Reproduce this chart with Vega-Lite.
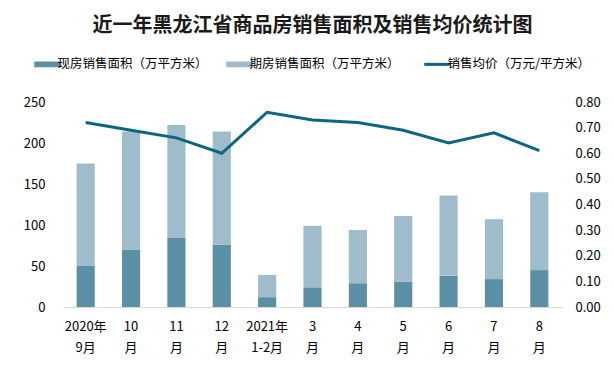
{
  "$schema": "https://vega.github.io/schema/vega-lite/v6.json",
  "width": 499,
  "height": 205,
  "autosize": "none",
  "padding": {"left": 63, "top": 102, "right": 52, "bottom": 63},
  "background": "white",
  "title": {
    "text": "近一年黑龙江省商品房销售面积及销售均价统计图",
    "font": "Noto Sans CJK SC",
    "fontSize": 20,
    "fontWeight": "bold",
    "color": "#1a1a1a",
    "anchor": "middle",
    "offset": 22
  },
  "config": {
    "view": {"stroke": null},
    "font": "Noto Sans CJK SC",
    "axis": {"grid": false, "ticks": false, "labelColor": "#000000", "labelFont": "Noto Sans CJK SC", "labelFontSize": 13, "title": null}
  },
  "data": {
    "values": [
      {"month": "2020年|9月", "现房销售面积(万平方米)": 50, "期房销售面积(万平方米)": 125, "price": 0.72},
      {"month": "10|月", "现房销售面积(万平方米)": 70, "期房销售面积(万平方米)": 144, "price": 0.69},
      {"month": "11|月", "现房销售面积(万平方米)": 84, "期房销售面积(万平方米)": 138, "price": 0.66},
      {"month": "12|月", "现房销售面积(万平方米)": 76, "期房销售面积(万平方米)": 138, "price": 0.60},
      {"month": "2021年|1-2月", "现房销售面积(万平方米)": 12, "期房销售面积(万平方米)": 27, "price": 0.76},
      {"month": "3|月", "现房销售面积(万平方米)": 24, "期房销售面积(万平方米)": 75, "price": 0.73},
      {"month": "4|月", "现房销售面积(万平方米)": 29, "期房销售面积(万平方米)": 65, "price": 0.72},
      {"month": "5|月", "现房销售面积(万平方米)": 31, "期房销售面积(万平方米)": 80, "price": 0.69},
      {"month": "6|月", "现房销售面积(万平方米)": 38, "期房销售面积(万平方米)": 98, "price": 0.64},
      {"month": "7|月", "现房销售面积(万平方米)": 34, "期房销售面积(万平方米)": 73, "price": 0.68},
      {"month": "8|月", "现房销售面积(万平方米)": 45, "期房销售面积(万平方米)": 95, "price": 0.61}
    ]
  },
  "encoding": {
    "x": {
      "field": "month",
      "type": "nominal",
      "sort": null,
      "scale": {"paddingInner": 0.6, "paddingOuter": 0.3},
      "axis": {
        "labelAngle": 0,
        "labelExpr": "split(datum.label, '|')",
        "labelLineHeight": 21,
        "labelPadding": 13,
        "labelBaseline": "top",
        "domainColor": "#d9d9d9",
        "domainWidth": 1
      }
    }
  },
  "layer": [
    {
      "transform": [
        {"fold": ["现房销售面积(万平方米)", "期房销售面积(万平方米)"], "as": ["series", "value"]}
      ],
      "mark": {"type": "bar"},
      "encoding": {
        "y": {
          "field": "value",
          "type": "quantitative",
          "stack": "zero",
          "scale": {"domain": [0, 250]},
          "axis": {"values": [0, 50, 100, 150, 200, 250], "domain": false, "labelPadding": 18}
        },
        "order": {"field": "series", "sort": "descending"},
        "color": {
          "field": "series",
          "type": "nominal",
          "scale": {
            "domain": ["现房销售面积(万平方米)", "期房销售面积(万平方米)", "销售均价(万元/平方米)"],
            "range": ["#5b8fa5", "#9ebcc9", "#0e6583"]
          },
          "legend": {
            "title": null,
            "orient": "none",
            "direction": "horizontal",
            "legendX": -22,
            "legendY": -44,
            "labelFont": "Noto Sans CJK SC",
            "labelFontSize": 12.5,
            "labelColor": "#000000",
            "labelOffset": 4,
            "columnPadding": 18,
            "labelExpr": "replace(replace(datum.label, '(', '（'), ')', '）')",
            "symbolSize": 676,
            "symbolType": "M-1,-0.22H1V0.22H-1Z",
            "encode": {
              "symbols": {
                "update": {
                  "shape": {"signal": "datum.value === '销售均价(万元/平方米)' ? 'M-1,0H1' : 'M-1,-0.22H1V0.22H-1Z'"},
                  "strokeWidth": {"signal": "datum.value === '销售均价(万元/平方米)' ? 3 : 0"},
                  "stroke": {"scale": "color", "field": "value"},
                  "fill": {"scale": "color", "field": "value"},
                  "opacity": {"value": 1}
                }
              }
            }
          }
        }
      }
    },
    {
      "mark": {"type": "line", "strokeWidth": 3},
      "encoding": {
        "y": {
          "field": "price",
          "type": "quantitative",
          "scale": {"domain": [0, 0.8]},
          "axis": {"orient": "right", "format": ".2f", "values": [0, 0.1, 0.2, 0.3, 0.4, 0.5, 0.6, 0.7, 0.8], "domain": false, "labelPadding": 13}
        },
        "color": {"datum": "销售均价(万元/平方米)"}
      }
    }
  ],
  "resolve": {"scale": {"y": "independent"}}
}
